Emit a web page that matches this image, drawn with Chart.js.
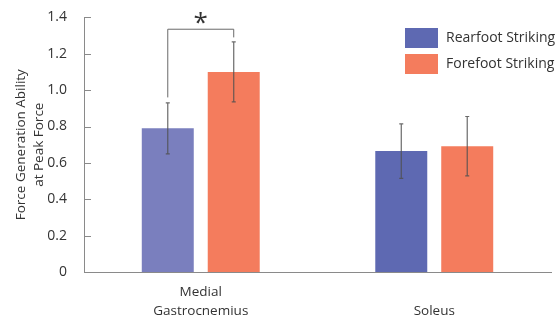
<!DOCTYPE html>
<html>
<head>
<meta charset="utf-8">
<script src="https://cdn.jsdelivr.net/npm/chart.js@4"></script>
<style>
  html, body { margin: 0; padding: 0; background: #fff; }
  #wrap { width: 556px; height: 320px; }
</style>
</head>
<body>
<div id="wrap"><canvas id="myChart" width="556" height="320"></canvas></div>
<script>
// values
var categories = [['Medial', 'Gastrocnemius'], ['', 'Soleus']];
var seriesNames = ['Rearfoot Striking', 'Forefoot Striking'];
var rearfoot = [0.79, 0.665];
var forefoot = [1.10, 0.692];
var rearfootErr = [0.14, 0.15];
var forefootErr = [0.165, 0.163];
var yTicks = [0, 0.2, 0.4, 0.6, 0.8, 1.0, 1.2, 1.4];

var rearColors = ['#7a7fbe', '#5e69b2'];
var foreColor = '#f47c5d';
var legendColors = ['#5e69b2', '#f47c5d'];
var font = '"Open Sans", "Liberation Sans", sans-serif';
var textColor = '#333';
var axisColor = '#8a8a8a';

// significance bracket between the two Medial Gastrocnemius bars (data units)
var sigTop = 1.335, sigLeftBottom = 0.96, sigRightBottom = 1.29;

var overlay = {
    id: 'overlay',
    afterDatasetsDraw: function (chart) {
        var ctx = chart.ctx;
        var x = chart.scales.x, y = chart.scales.y;
        var errs = [rearfootErr, forefootErr];
        var vals = [rearfoot, forefoot];

        // error bars
        ctx.save();
        ctx.strokeStyle = 'rgba(80,80,80,0.85)';
        ctx.lineWidth = 1.2;
        for (var d = 0; d < 2; d++) {
            var meta = chart.getDatasetMeta(d);
            meta.data.forEach(function (bar, i) {
                var top = y.getPixelForValue(vals[d][i] + errs[d][i]);
                var bot = y.getPixelForValue(vals[d][i] - errs[d][i]);
                ctx.beginPath();
                ctx.moveTo(bar.x, top); ctx.lineTo(bar.x, bot);
                ctx.moveTo(bar.x - 2, top); ctx.lineTo(bar.x + 2, top);
                ctx.moveTo(bar.x - 2, bot); ctx.lineTo(bar.x + 2, bot);
                ctx.stroke();
            });
        }
        ctx.restore();

        // bracket + asterisk
        var b0 = chart.getDatasetMeta(0).data[0], b1 = chart.getDatasetMeta(1).data[0];
        ctx.save();
        ctx.strokeStyle = '#6a6a6a';
        ctx.lineWidth = 1;
        ctx.beginPath();
        ctx.moveTo(b0.x, y.getPixelForValue(sigLeftBottom));
        ctx.lineTo(b0.x, y.getPixelForValue(sigTop));
        ctx.lineTo(b1.x, y.getPixelForValue(sigTop));
        ctx.lineTo(b1.x, y.getPixelForValue(sigRightBottom));
        ctx.stroke();
        ctx.fillStyle = '#333';
        ctx.font = '26px ' + font;
        ctx.textAlign = 'center';
        ctx.textBaseline = 'alphabetic';
        ctx.fillText('*', (b0.x + b1.x) / 2, y.getPixelForValue(sigTop) + 2);
        ctx.restore();

        // inward y ticks
        ctx.save();
        ctx.strokeStyle = axisColor;
        ctx.lineWidth = 1;
        yTicks.forEach(function (t) {
            var py = Math.round(y.getPixelForValue(t)) + 0.5;
            ctx.beginPath();
            ctx.moveTo(x.left, py); ctx.lineTo(x.left + 7, py);
            ctx.stroke();
        });
        ctx.restore();

        // legend
        ctx.save();
        ctx.font = '14px ' + font;
        ctx.textBaseline = 'middle';
        ctx.textAlign = 'left';
        seriesNames.forEach(function (name, i) {
            var ly = 28 + i * 26;
            ctx.fillStyle = legendColors[i];
            ctx.fillRect(405, ly, 33, 20);
            ctx.fillStyle = textColor;
            ctx.fillText(name, 446, ly + 10);
        });
        ctx.restore();
    }
};

var ctx = document.getElementById('myChart').getContext('2d');
var myChart = new Chart(ctx, {
    type: 'bar',
    data: {
        labels: categories,
        datasets: [{
            label: seriesNames[0],
            data: rearfoot,
            backgroundColor: rearColors,
            barPercentage: 0.788,
            categoryPercentage: 0.565
        }, {
            label: seriesNames[1],
            data: forefoot,
            backgroundColor: foreColor,
            barPercentage: 0.788,
            categoryPercentage: 0.565
        }]
    },
    options: {
        responsive: false,
        animation: false,
        layout: { padding: { top: 16, right: 5, left: 0, bottom: 0 } },
        plugins: { legend: { display: false }, tooltip: { enabled: false } },
        scales: {
            x: {
                grid: { display: false },
                border: { color: axisColor, width: 1 },
                ticks: { color: textColor, font: { family: font, size: 13.5, lineHeight: 1.45 }, padding: 2 },
                afterFit: function (s) { s.height = 48; }
            },
            y: {
                min: 0, max: 1.4,
                grid: { display: false },
                border: { color: axisColor, width: 1 },
                afterBuildTicks: function (s) { s.ticks = yTicks.map(function (v) { return { value: v }; }); },
                ticks: {
                    color: textColor, font: { family: font, size: 14 }, padding: 9,
                    callback: function (v) { return v === 0 ? '0' : v.toFixed(1); }
                },
                title: {
                    display: true,
                    text: ['Force Generation Ability', 'at Peak Force'],
                    color: textColor,
                    font: { family: font, size: 13.5, lineHeight: 1.35 },
                    padding: { top: 12, bottom: 4 }
                },
                afterFit: function (s) { s.width = 84; }
            }
        }
    },
    plugins: [overlay]
});
</script>
</body>
</html>
